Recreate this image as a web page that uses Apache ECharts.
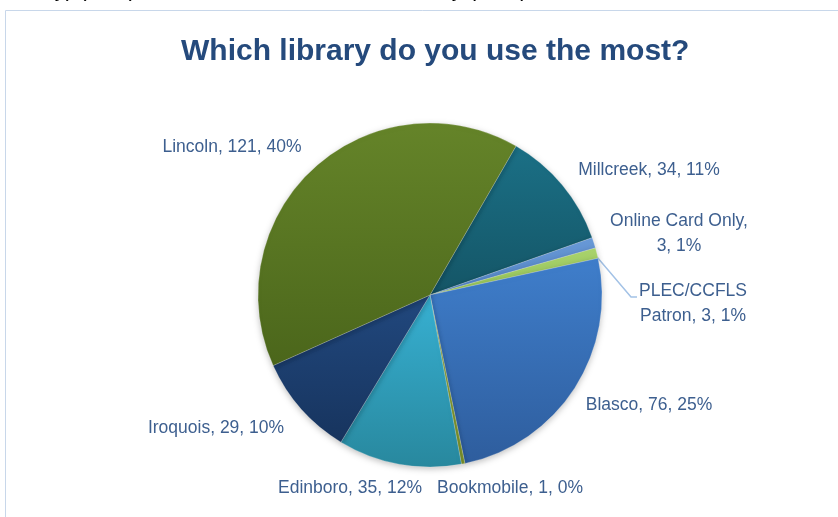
<!DOCTYPE html>
<html><head><meta charset="utf-8">
<script src="https://cdn.jsdelivr.net/npm/echarts@6/dist/echarts.min.js"></script>
<style>html,body{margin:0;padding:0;background:#fff}#c{width:838px;height:517px}</style>
</head><body><div id="c"></div>
<script>
const categories = ['Millcreek','Online Card Only','PLEC/CCFLS Patron','Blasco','Bookmobile','Edinboro','Iroquois','Lincoln'];
const values = [34,3,3,76,1,35,29,121];
const percents = ['11%','1%','1%','25%','0%','12%','10%','40%'];
const labelTexts = ['Millcreek, 34, 11%','Online Card Only,\n3, 1%','PLEC/CCFLS\nPatron, 3, 1%','Blasco, 76, 25%','Bookmobile, 1, 0%','Edinboro, 35, 12%','Iroquois, 29, 10%','Lincoln, 121, 40%'];
const colorsTop = ['#1b7086','#6a9ad8','#aad46e','#3f7ecb','#9ab03e','#37b0d2','#21487e','#658429'];
const colorsBot = ['#145566','#5084c4','#96c458','#2e5d9d','#7c942c','#28889e','#17345e','#4b661b'];
const labelPos = [[649,170],[679,234],[693,304],[649,405],[510,488],[350,488],[216,428],[232,147]];

const chart = echarts.init(document.getElementById('c'));
const data = categories.map((c,i)=>({
  name:c, value:values[i],
  itemStyle:{color:{type:'linear',x:0,y:0,x2:0,y2:1,colorStops:[{offset:0,color:colorsTop[i]},{offset:1,color:colorsBot[i]}]}},
  labelLine:{show:i===2}
}));
chart.setOption({
  animation:false,
  title:{text:'Which library do you use the most?',left:176,top:32,
    textStyle:{fontFamily:'Liberation Sans',fontWeight:'bold',fontSize:30,color:'#254a7c'}},
  graphic:[
    {type:'rect',shape:{x:5.5,y:10.5,width:900,height:600},style:{fill:'none',stroke:'#c8d7ea',lineWidth:1},z:-1},
    {type:'text',left:-4,top:-21,style:{text:'County) (11%) or from elsewhere in Erie County (88%)',font:'22px Liberation Sans',fill:'#000'}}
  ],
  series:[{
    type:'pie', center:[430,295], radius:172, startAngle:60, clockwise:true,
    data:data,
    itemStyle:{borderColor:'rgba(255,255,255,0.4)',borderWidth:0.5,shadowBlur:6,shadowColor:'rgba(0,0,0,0.25)',shadowOffsetY:2},
    label:{show:true,formatter:p=>labelTexts[p.dataIndex],fontFamily:'Liberation Sans',fontSize:17.5,color:'#3d5f8f',lineHeight:25,align:'center'},
    labelLine:{show:false,lineStyle:{color:'#a3c2e6',width:1.5},length:10,length2:10,smooth:false},
    labelLayout:function(p){
      const i=p.dataIndex; const r={x:labelPos[i][0],y:labelPos[i][1],align:'center',verticalAlign:'middle'};
      if(i===2){ r.labelLinePoints=[[597,257],[631,297],[637,297]]; }
      return r;
    }
  }]
});
</script></body></html>
